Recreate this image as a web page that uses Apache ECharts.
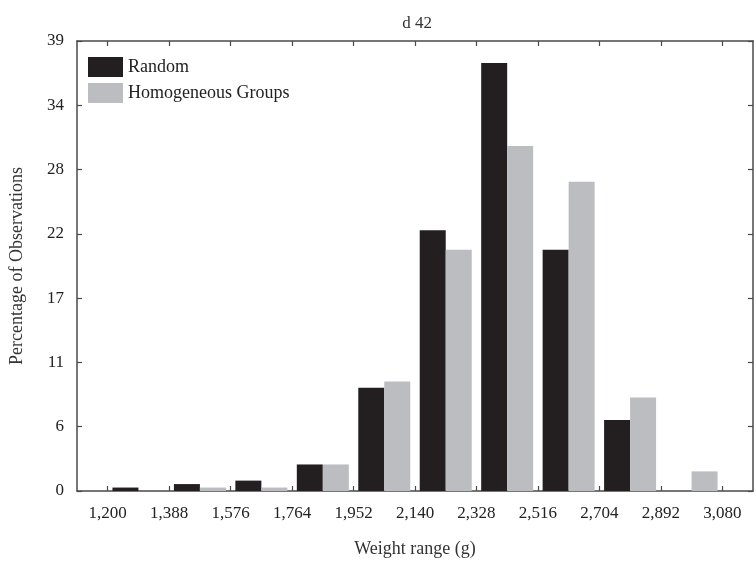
<!DOCTYPE html>
<html>
<head>
<meta charset="utf-8">
<script src="https://cdn.jsdelivr.net/npm/echarts@6/dist/echarts.min.js"></script>
<style>html,body{margin:0;padding:0;background:#fff;}#c{width:756px;height:570px;}</style>
</head>
<body>
<div id="c"></div>
<script>
const titleText = 'd 42';
const xTicks = [1200, 1388, 1576, 1764, 1952, 2140, 2328, 2516, 2704, 2892, 3080];
const yTickLabels = ['0', '6', '11', '17', '22', '28', '34', '39'];
const yMax = 39;
const randomVals = [0.3, 0.6, 0.9, 2.3, 8.95, 22.6, 37.1, 20.9, 6.15, 0];
const homogVals = [0, 0.3, 0.3, 2.3, 9.5, 20.9, 29.9, 26.8, 8.1, 1.7];
const seriesNames = ['Random', 'Homogeneous Groups'];

const step = xTicks[1] - xTicks[0];
const binCenters = randomVals.map((_, i) => (xTicks[i] + xTicks[i + 1]) / 2);
const yTickVals = yTickLabels.map((_, i) => i * yMax / (yTickLabels.length - 1));
const font = 'Liberation Serif';
const axisCol = '#4a4a4a';

const chart = echarts.init(document.getElementById('c'));
const xBase = {
  type: 'value', min: xTicks[0] - step / 2, max: xTicks[xTicks.length - 1] + step / 2,
  axisLine: { show: true, onZero: false, lineStyle: { color: axisCol, width: 1.5 } },
  axisTick: { show: true, inside: true, length: 5, customValues: xTicks, lineStyle: { color: axisCol, width: 1.2 } },
  splitLine: { show: false }
};
const yBase = {
  type: 'value', min: 0, max: yMax,
  axisLine: { show: true, onZero: false, lineStyle: { color: axisCol, width: 1.5 } },
  axisTick: { show: true, inside: true, length: 5, customValues: yTickVals, lineStyle: { color: axisCol, width: 1.2 } },
  splitLine: { show: false }
};
chart.setOption({
  animation: false,
  backgroundColor: '#fff',
  title: { text: titleText, left: 412, textAlign: 'center', top: 10,
    textStyle: { fontFamily: font, fontSize: 17, fontWeight: 'normal', color: '#333' } },
  legend: { orient: 'vertical', left: 83, top: 52, itemWidth: 35, itemHeight: 20, itemGap: 6,
    icon: 'rect', data: seriesNames,
    textStyle: { fontFamily: font, fontSize: 18, color: '#222' } },
  grid: { left: 72, right: 3, top: 41, bottom: 79, containLabel: false },
  xAxis: [
    Object.assign({}, xBase, {
      position: 'bottom',
      name: 'Weight range (g)', nameLocation: 'middle', nameGap: 49,
      nameTextStyle: { fontFamily: font, fontSize: 18, color: '#333' },
      axisLabel: { show: true, customValues: xTicks, margin: 14,
        formatter: v => v.toLocaleString('en-US'),
        fontFamily: font, fontSize: 17, color: '#222' }
    }),
    Object.assign({}, xBase, { position: 'top', axisLabel: { show: false } })
  ],
  yAxis: [
    Object.assign({}, yBase, {
      position: 'left',
      name: 'Percentage of Observations', nameLocation: 'middle', nameGap: 51,
      nameTextStyle: { fontFamily: font, fontSize: 18, color: '#333' },
      axisLabel: { show: true, customValues: yTickVals, margin: 13,
        formatter: v => yTickLabels[Math.round(v / (yMax / (yTickLabels.length - 1)))],
        fontFamily: font, fontSize: 17, color: '#222' }
    }),
    Object.assign({}, yBase, { position: 'right', axisLabel: { show: false } })
  ],
  series: [
    { name: seriesNames[0], type: 'bar', xAxisIndex: 0, yAxisIndex: 0, barWidth: 26, barGap: '0%',
      itemStyle: { color: '#231f20' },
      data: binCenters.map((x, i) => [x, randomVals[i]]) },
    { name: seriesNames[1], type: 'bar', xAxisIndex: 0, yAxisIndex: 0, barWidth: 26, barGap: '0%',
      itemStyle: { color: '#bcbdc0' },
      data: binCenters.map((x, i) => [x, homogVals[i]]) }
  ]
});
</script>
</body>
</html>
